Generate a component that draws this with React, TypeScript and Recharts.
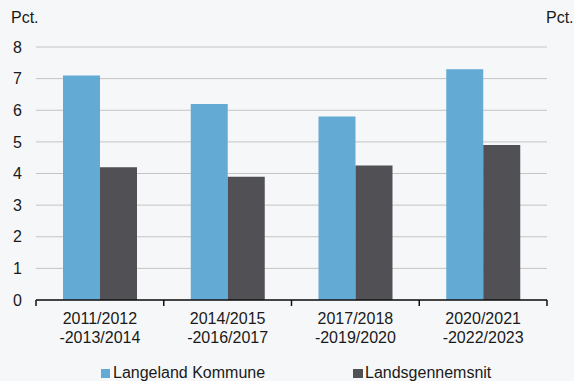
import React from "react";
import { BarChart, Bar, XAxis, YAxis, CartesianGrid } from "recharts";

const periods = [
  "2011/2012 -2013/2014",
  "2014/2015 -2016/2017",
  "2017/2018 -2019/2020",
  "2020/2021 -2022/2023",
];
const langeland = [7.1, 6.2, 5.8, 7.3];
const landsgennemsnit = [4.2, 3.9, 4.25, 4.9];
const yTicks = [0, 1, 2, 3, 4, 5, 6, 7, 8];

const BLUE = "#63aad5";
const DARK = "#505055";
const BG = "#f6f7f8";
const FONT = "'Liberation Sans', Arial, sans-serif";

const data = periods.map((p, i) => ({
  period: p,
  langeland: langeland[i],
  lands: landsgennemsnit[i],
}));

// two-line category label, plus tick marks on the category edges
function PeriodTick(props: any) {
  const { x, y, payload, index, visibleTicksCount } = props;
  const half = payload.offset || 64;
  const [first, second] = String(payload.value).split(" ");
  return (
    <g>
      <line x1={x - half} x2={x - half} y1={y} y2={y + 6} stroke="#111" strokeWidth={1.5} />
      {index === visibleTicksCount - 1 && (
        <line x1={x + half} x2={x + half} y1={y} y2={y + 6} stroke="#111" strokeWidth={1.5} />
      )}
      <text x={x} y={y + 24} textAnchor="middle" fill="#1a1a1a" fontSize={16} fontFamily={FONT}>
        {first}
      </text>
      <text x={x} y={y + 43} textAnchor="middle" fill="#1a1a1a" fontSize={16} fontFamily={FONT}>
        {second}
      </text>
    </g>
  );
}

function RightTick(props: any) {
  const { x, y, payload } = props;
  return (
    <text x={x + 4} y={y} dy="0.355em" textAnchor="start" fill="#1a1a1a" fontSize={16} fontFamily={FONT}>
      {payload.value}
    </text>
  );
}

export default function App() {
  const tickStyle = { fontSize: 16, fill: "#1a1a1a", fontFamily: FONT };
  return (
    <div
      style={{
        position: "absolute",
        left: 0,
        top: 0,
        width: 574,
        height: 381,
        background: BG,
        fontFamily: FONT,
        color: "#1a1a1a",
      }}
    >
      <span style={{ position: "absolute", left: 546, top: 9, fontSize: 16 }}>Pct.</span>
      <span style={{ position: "absolute", left: 11, top: 9, fontSize: 16 }}>Pct.</span>
      <BarChart
        width={574}
        height={381}
        data={data}
        margin={{ top: 47, right: 0, left: 0, bottom: 0 }}
        barGap={0}
        barSize={37}
      >
        <CartesianGrid vertical={false} stroke="#c4c4c4" yAxisId="left" />
        <XAxis
          dataKey="period"
          height={81}
          axisLine={{ stroke: "#111", strokeWidth: 1.5 }}
          tickLine={false}
          tickSize={0}
          tickMargin={0}
          interval={0}
          tick={<PeriodTick />}
        />
        <YAxis
          yAxisId="left"
          orientation="left"
          width={36}
          domain={[0, 8]}
          ticks={yTicks}
          axisLine={false}
          tickLine={false}
          tickSize={0}
          tickMargin={14}
          tick={tickStyle}
        />
        <YAxis
          yAxisId="right"
          orientation="right"
          width={27}
          domain={[0, 8]}
          ticks={yTicks}
          axisLine={false}
          tickLine={false}
          tickSize={0}
          tick={<RightTick />}
        />
        <Bar yAxisId="left" dataKey="langeland" fill={BLUE} isAnimationActive={false} />
        <Bar yAxisId="left" dataKey="lands" fill={DARK} isAnimationActive={false} />
      </BarChart>
      <div style={{ position: "absolute", left: 101, top: 364, fontSize: 16, display: "flex", alignItems: "center" }}>
        <span style={{ width: 9, height: 9, background: BLUE, marginRight: 3, display: "inline-block" }} />
        Langeland Kommune
      </div>
      <div style={{ position: "absolute", left: 353, top: 364, fontSize: 16, display: "flex", alignItems: "center" }}>
        <span style={{ width: 10, height: 9, background: DARK, marginRight: 2, display: "inline-block" }} />
        Landsgennemsnit
      </div>
    </div>
  );
}
